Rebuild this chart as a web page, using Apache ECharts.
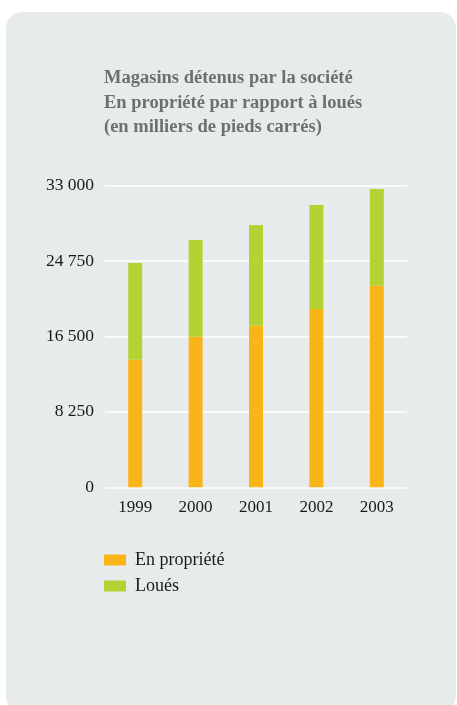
<!DOCTYPE html>
<html>
<head>
<meta charset="utf-8">
<script src="https://cdn.jsdelivr.net/npm/echarts@6/dist/echarts.min.js"></script>
<style>
html,body{margin:0;padding:0;background:#ffffff;}
#chart{width:457px;height:705px;}
</style>
</head>
<body>
<div id="chart"></div>
<script>
var titleText = 'Magasins détenus par la société\nEn propriété par rapport à loués\n(en milliers de pieds carrés)';
var categories = ['1999', '2000', '2001', '2002', '2003'];
var seriesNames = ['En propriété', 'Loués'];
var owned = [13960, 16480, 17680, 19500, 22050];
var leased = [10580, 10580, 11020, 11380, 10580];
var yTicks = [0, 8250, 16500, 24750, 33000];

var FONT = '"Liberation Serif", "DejaVu Serif", serif';
function fmt(v){ return String(v).replace(/\B(?=(\d{3})+(?!\d))/g, ' '); }

var chart = echarts.init(document.getElementById('chart'), null, {renderer:'canvas'});
chart.setOption({
  backgroundColor: '#ffffff',
  animation: false,
  graphic: [{
    type: 'rect', z: -10, silent: true,
    shape: {x: 6, y: 12, width: 450, height: 700, r: 16},
    style: {fill: '#e8ebeb'}
  }],
  title: {
    text: titleText,
    left: 99, top: 61,
    textStyle: {fontFamily: FONT, fontWeight: 'bold', fontSize: 18.5, color: '#6a726f', lineHeight: 24.5}
  },
  legend: {
    orient: 'vertical', left: 99, top: 546,
    itemWidth: 22, itemHeight: 11, itemGap: 8,
    icon: 'rect',
    data: seriesNames,
    textStyle: {fontFamily: FONT, fontSize: 18, color: '#1a1a1a', padding: [0,0,0,4]}
  },
  grid: {left: 105, right: 50, top: 185.7, bottom: 217.7, containLabel: false},
  xAxis: {
    type: 'category', data: categories,
    axisLine: {show: false}, axisTick: {show: false},
    axisLabel: {fontFamily: FONT, fontSize: 17, color: '#1a1a1a', margin: 12}
  },
  yAxis: {
    type: 'value', min: 0, max: 33000, interval: 8250,
    axisLine: {show: false}, axisTick: {show: false},
    splitLine: {lineStyle: {color: '#ffffff', width: 1.5}},
    axisLabel: {fontFamily: FONT, fontSize: 17.5, color: '#1a1a1a', margin: 11, formatter: function(v){ return fmt(v); }}
  },
  series: [
    {name: seriesNames[0], type: 'bar', stack: 's', data: owned, barWidth: 14, itemStyle: {color: '#f9b418'}},
    {name: seriesNames[1], type: 'bar', stack: 's', data: leased, barWidth: 14, itemStyle: {color: '#b3d334'}}
  ]
});
</script>
</body>
</html>
